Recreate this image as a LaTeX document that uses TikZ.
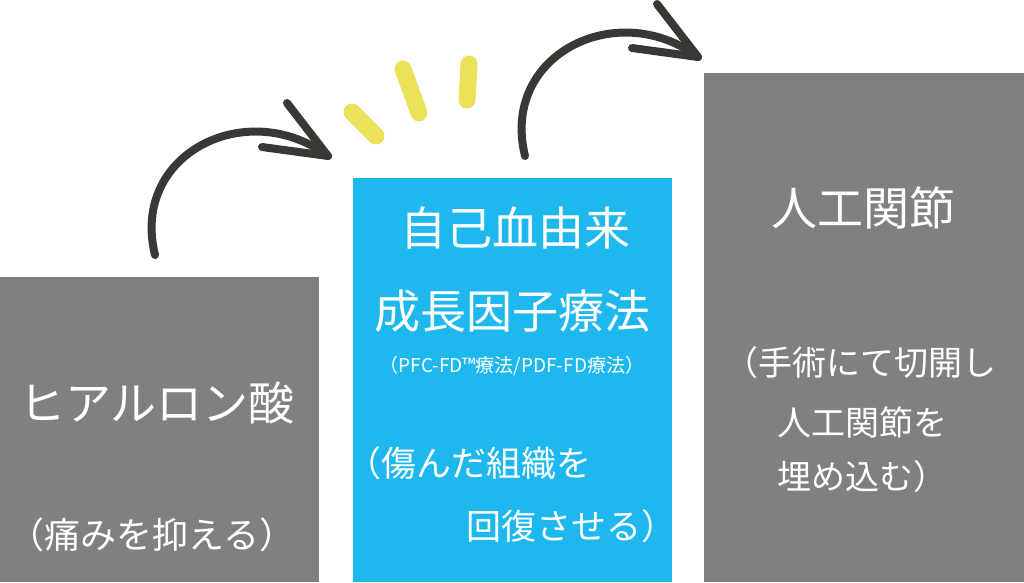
\documentclass[tikz,border=0pt]{standalone}
\usepackage{fontspec}
\setmainfont{Noto Sans CJK JP}
\definecolor{boxgray}{HTML}{808080}
\definecolor{boxblue}{HTML}{1FB8EE}
\definecolor{arrowdark}{HTML}{3A3835}
\definecolor{markyellow}{HTML}{EBE15A}
\begin{document}
\begin{tikzpicture}[x=1pt,y=-1pt,
  box/.style={inner sep=0pt, outer sep=0pt, anchor=north west},
  txt/.style={text=white, inner sep=0pt},
  big/.style={txt, font=\fontsize{46}{46}\selectfont},
  mid/.style={txt, font=\fontsize{34}{34}\selectfont},
  sml/.style={txt, font=\fontsize{19}{19}\selectfont},
  curve/.style={draw=arrowdark, line width=8pt, line cap=round, line join=round},
  spark/.style={draw=markyellow, line width=17pt, line cap=round}]
\useasboundingbox (0,0) rectangle (1024,582);
% boxes
\node[box, fill=boxgray, minimum width=319pt, minimum height=305pt] (hya) at (0,277) {};
\node[box, fill=boxblue, minimum width=319pt, minimum height=404pt] (pfc) at (353,178) {};
\node[box, fill=boxgray, minimum width=320pt, minimum height=509pt] (art) at (704,73) {};
% texts left
\node[big] (t1a) at (157,403) {ヒアルロン酸};
\node[mid, font=\fontsize{36}{36}\selectfont] (t1b) at (152,535) {（痛みを抑える）};
% texts middle
\node[big] (t2a) at (515,228) {自己血由来};
\node[big] (t2b) at (512,311) {成長因子療法};
\node[sml] (t2c) at (512,366) {（PFC-FD™療法/PDF-FD療法）};
\node[mid, font=\fontsize{35}{35}\selectfont, anchor=west] (t2d) at (346,463) {（傷んだ組織を};
\node[mid, font=\fontsize{35}{35}\selectfont, anchor=east] (t2e) at (677,526) {回復させる）};
% texts right
\node[big] (t3a) at (863,208) {人工関節};
\node[mid, anchor=west] (t3b) at (724,363) {（手術にて切開し};
\node[mid, anchor=west] (t3c) at (777,423) {人工関節を};
\node[mid, anchor=west] (t3d) at (777,477) {埋め込む）};
% arrow 1
\coordinate (a1s) at (155,255);
\coordinate (a1t) at (328,156);
\coordinate (a1u) at (287,103);
\coordinate (a1l) at (262,147);
\draw[curve] (a1s) .. controls (130,153) and (248,96) .. (a1t);
\draw[curve] (a1u) -- (a1t) -- (a1l);
% arrow 2
\coordinate (a2s) at (525,156);
\coordinate (a2t) at (698,57);
\coordinate (a2u) at (657,4);
\coordinate (a2l) at (632,48);
\draw[curve] (a2s) .. controls (500,54) and (618,-3) .. (a2t);
\draw[curve] (a2u) -- (a2t) -- (a2l);
% sparkle marks
\coordinate (s1a) at (352,112); \coordinate (s1b) at (376,136);
\coordinate (s2a) at (403,69);  \coordinate (s2b) at (419,113);
\coordinate (s3a) at (469,64);  \coordinate (s3b) at (467,100);
\draw[spark] (s1a) -- (s1b);
\draw[spark] (s2a) -- (s2b);
\draw[spark] (s3a) -- (s3b);
\end{tikzpicture}
\end{document}
